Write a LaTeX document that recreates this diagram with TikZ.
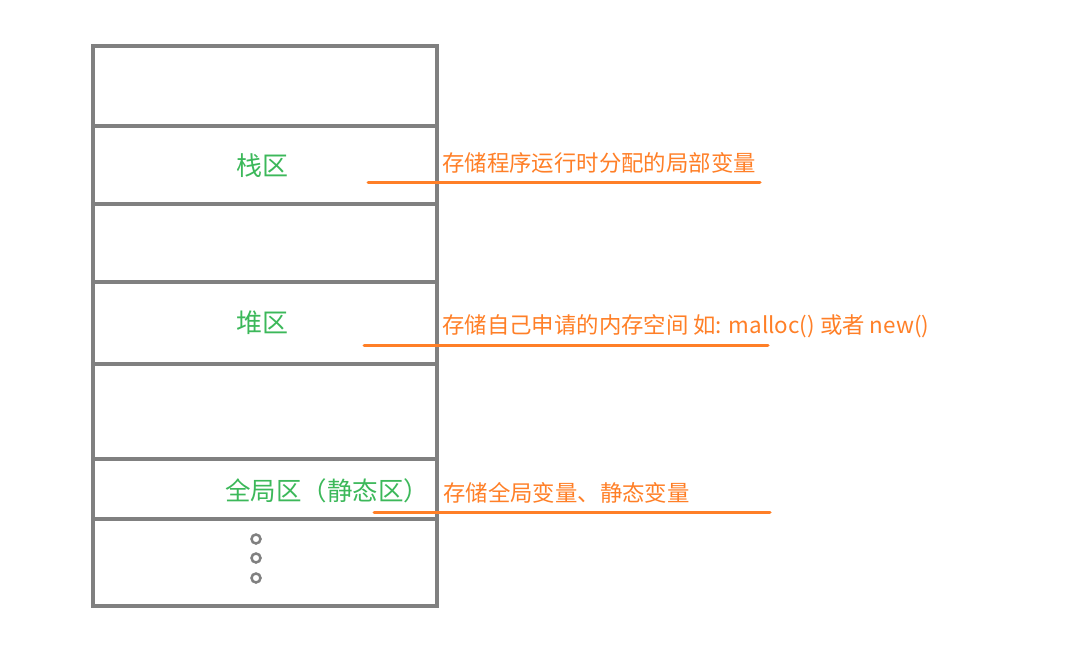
\documentclass[tikz,border=0pt]{standalone}
\usepackage{fontspec}
\setmainfont{Noto Sans CJK SC}
\usetikzlibrary{positioning}
\definecolor{boxgray}{HTML}{808080}
\definecolor{zonegreen}{HTML}{3CB85A}
\definecolor{noteorange}{HTML}{FF7F27}
\tikzset{
         zone/.style={font=\fontsize{26}{30}\selectfont,text=zonegreen,inner sep=0pt},
         note/.style={right,font=\fontsize{22.4}{26}\selectfont,text=noteorange,inner sep=0pt},
         wall/.style={draw=boxgray,line width=3.5pt},
         underline/.style={draw=noteorange,line width=3pt,line cap=round}
        }
\begin{document}
\begin{tikzpicture}[x=1pt,y=-1pt]
\useasboundingbox(0,0)rectangle(1080,669);
\draw[wall](93,46)rectangle(437,606);
\foreach \y in {126,204,282,364,459,519}\draw[wall](93,\y)--(437,\y);
\node[zone](stack)at(262,166){栈区};
\node[zone](heap)at(262,323){堆区};
\node[zone,font=\fontsize{25.5}{30}\selectfont](global)at(327,491){全局区（静态区）};
\node[note](stacknote)at(442,163){存储程序运行时分配的局部变量};
\node[note](heapnote)at(442,326){存储自己申请的内存空间 如: malloc() 或者 new()};
\node[note](globalnote)at(443,493){存储全局变量、静态变量};
\coordinate(stackA)at(368,182);\coordinate(stackB)at(760,182);
\coordinate(heapA)at(364,345);\coordinate(heapB)at(768,345);
\coordinate(globalA)at(374,512);\coordinate(globalB)at(770,512);
\draw[underline](stackA)--(stackB);
\draw[underline](heapA)--(heapB);
\draw[underline](globalA)--(globalB);
\foreach \y in {539,558,578}\draw[boxgray,line width=2.5pt](256,\y)circle(4.5);
\end{tikzpicture}
\end{document}
